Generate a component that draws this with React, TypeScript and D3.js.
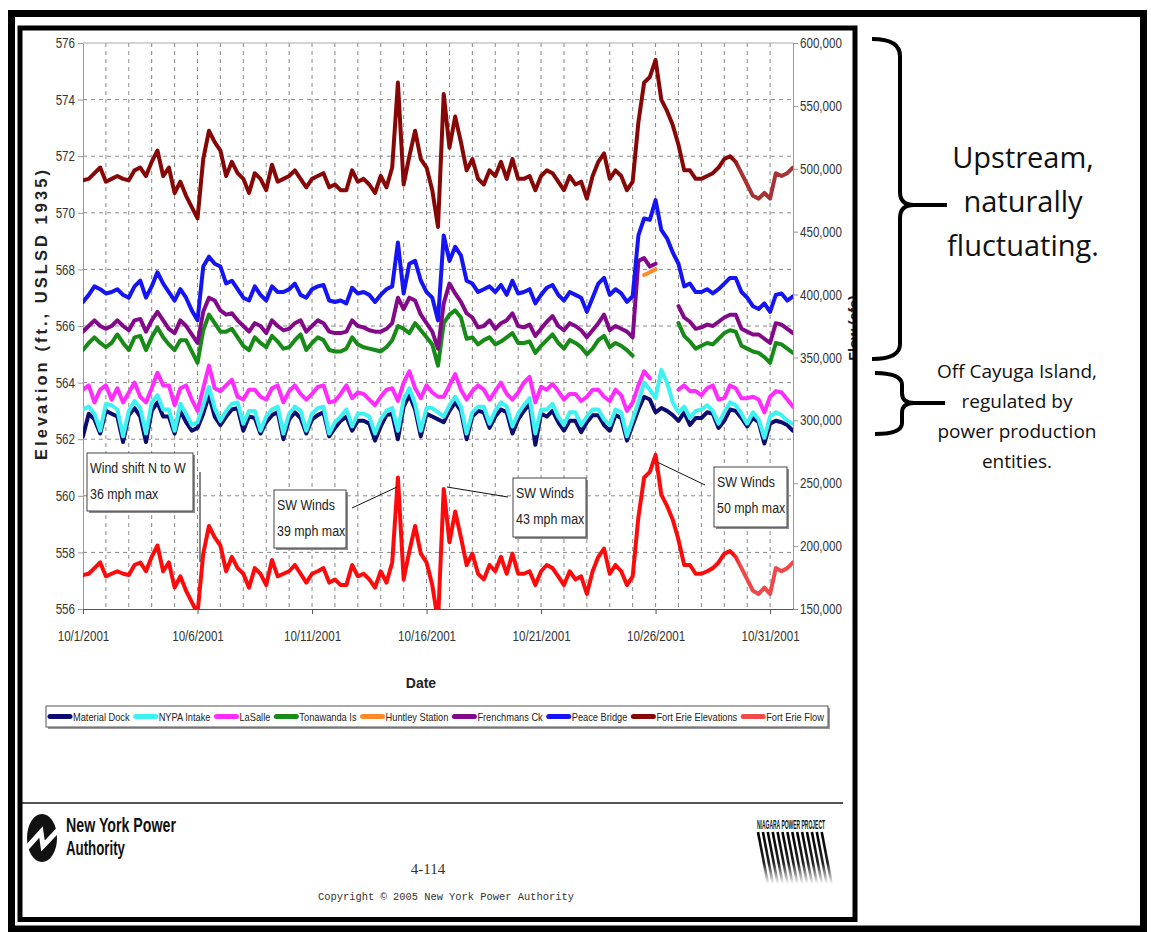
import React, { useEffect, useRef } from 'react';
import * as d3 from 'd3';

// readings every 6 hours, 10/1/2001 00:00 to 11/1/2001 00:00
const startDate = new Date(2001, 9, 1);
const endDate = new Date(2001, 10, 1);
const stepHours = 6;

const materialDock = [
  562.1, 562.9, 562.7, 562.2, 563.0, 562.9, 562.8, 561.9, 562.85, 563.1, 562.8, 561.9,
  563.0, 563.3, 562.8, 562.8, 562.2, 563.0, 562.6, 562.3, 562.4, 562.9, 563.55, 562.8,
  562.5, 562.8, 563.05, 563.1, 562.3, 562.8, 562.75, 562.2, 562.6, 562.85, 562.95, 562.0,
  562.7, 562.95, 562.75, 562.2, 562.7, 562.85, 562.95, 562.1, 562.4, 562.65, 562.8, 562.3,
  562.65, 562.65, 562.55, 561.95, 562.45, 562.85, 562.9, 562.0, 563.15, 563.55, 563.05, 562.1,
  562.9, 562.8, 562.7, 562.6, 563.0, 563.3, 563.0, 562.0, 562.8, 563.0, 562.95, 562.4,
  562.8, 563.05, 562.95, 562.2, 562.7, 563.0, 563.25, 561.8, 562.9, 562.8, 563.0, 562.6,
  562.3, 562.65, 562.65, 562.25, 562.6, 562.85, 562.85, 562.5, 562.3, 562.85, 562.75, 561.95,
  562.5, 563.05, 563.5, 563.4, 562.95, 563.1, 563.0, 562.85, 562.65, 562.95, 562.5, 562.75,
  562.75, 562.95, 562.9, 562.4, 562.65, 563.05, 563.0, 562.75, 562.45, 562.75, 562.6, 561.85,
  562.55, 562.65, 562.6, 562.5, 562.3,
];

const nypaIntake = [
  563.05, 563.15, 562.9, 562.3, 563.25, 563.2, 563.05, 562.1, 563.0, 563.35, 563.1, 562.2,
  563.3, 563.55, 563.05, 563.05, 562.3, 563.25, 562.9, 562.5, 562.6, 563.2, 563.85, 563.1,
  562.65, 563.0, 563.25, 563.3, 562.55, 563.0, 563.0, 562.3, 562.8, 563.05, 563.15, 562.2,
  562.9, 563.15, 563.0, 562.3, 562.9, 563.1, 563.15, 562.2, 562.6, 562.8, 563.05, 562.45,
  562.9, 562.9, 562.8, 562.2, 562.7, 563.0, 563.1, 562.3, 563.4, 563.8, 563.25, 562.3,
  563.1, 563.1, 562.95, 562.8, 563.2, 563.5, 563.15, 562.2, 562.95, 563.15, 563.15, 562.55,
  563.0, 563.3, 563.15, 562.45, 562.9, 563.2, 563.45, 562.2, 563.05, 563.05, 563.25, 562.8,
  562.5, 562.95, 562.95, 562.5, 562.8, 563.05, 563.05, 562.7, 562.5, 563.05, 562.95, 562.1,
  562.7, 563.3, 564.0, 563.75, 563.45, 564.45, 564.0, 563.3, 562.95, 563.15, 562.75, 563.0,
  563.05, 563.2, 563.0, 562.55, 562.95, 563.3, 563.2, 562.9, 562.55, 562.95, 562.7, 562.05,
  562.8, 562.95, 562.85, 562.65, 562.55,
];

const laSalle = [
  563.75, 563.9, 563.3, 563.75, 563.9, 563.4, 563.8, 563.3, 563.65, 564.0, 563.5, 563.3,
  563.8, 564.35, 563.9, 563.9, 563.2, 563.8, 563.9, 563.4, 563.0, 563.8, 564.6, 563.8,
  563.7, 563.9, 564.1, 563.5, 563.4, 563.75, 563.75, 563.5, 563.4, 563.8, 563.9, 563.3,
  563.7, 563.9, 563.6, 563.4, 563.6, 563.85, 563.9, 563.3, 563.35, 563.6, 563.9, 563.45,
  563.65, 563.6, 563.4, 563.2, 563.5, 563.75, 563.8, 563.35, 564.0, 564.4, 563.8, 563.45,
  563.9, 563.65, 563.5, 563.5, 563.9, 564.3, 563.75, 563.4, 563.7, 563.9, 563.75, 563.4,
  563.7, 564.0, 563.6, 563.4, 563.65, 564.0, 564.2, 563.3, 563.85, 563.75, 563.95, 563.7,
  563.4, 563.6, 563.6, 563.35, 563.5, 563.75, 563.75, 563.5, 563.35, 563.75, 563.55, 563.0,
  563.3, 563.9, 564.4, 564.15, null, null, null, null, 563.75, 563.9, 563.7, 563.7,
  563.55, 563.8, 563.9, 563.4, 563.45, 563.9, 563.8, 563.45, 563.45, 563.5, 563.4, 562.95,
  563.5, 563.7, 563.65, 563.4, 563.15,
];

const tonawandaIs = [
  565.15, 565.4, 565.6, 565.4, 565.25, 565.4, 565.7, 565.4, 565.15, 565.6, 565.65, 565.15,
  565.6, 565.95, 565.6, 565.35, 565.15, 565.5, 565.5, 565.1, 564.7, 565.85, 566.4, 566.1,
  565.8, 565.8, 565.9, 565.6, 565.3, 565.15, 565.6, 565.4, 565.25, 565.65, 565.45, 565.2,
  565.25, 565.5, 565.7, 565.15, 565.4, 565.6, 565.5, 565.15, 565.1, 565.1, 565.2, 565.6,
  565.35, 565.25, 565.2, 565.15, 565.1, 565.25, 565.5, 566.0, 565.9, 565.75, 566.1, 565.85,
  565.6, 565.35, 564.6, 566.1, 566.4, 566.55, 566.3, 565.55, 565.6, 565.35, 565.5, 565.6,
  565.35, 565.45, 565.6, 565.75, 565.4, 565.4, 565.45, 565.05, 565.3, 565.5, 565.7, 565.4,
  565.2, 565.5, 565.4, 565.25, 565.0, 565.2, 565.5, 565.65, 565.25, 565.4, 565.3, 565.15,
  564.95, null, null, null, null, null, null, null, 566.1, 565.65, 565.45, 565.2,
  565.3, 565.4, 565.35, 565.55, 565.75, 565.85, 565.8, 565.3, 565.2, 565.1, 565.05, 564.9,
  564.7, 565.4, 565.35, 565.2, 565.05,
];

// Huntley Station only reported for a few readings on 10/25
const huntleyDays = [24.5, 24.75, 25.0];
const huntleyStation = [567.8, 567.9, 568.0];

const frenchmansCk = [
  565.8, 566.0, 566.2, 566.0, 565.9, 566.0, 566.2, 566.0, 565.85, 566.2, 566.25, 565.8,
  566.2, 566.5, 566.2, 565.9, 565.75, 566.2, 566.0, 565.7, 565.4, 566.5, 567.0, 566.9,
  566.55, 566.4, 566.45, 566.2, 566.0, 565.8, 566.1, 566.0, 565.75, 566.2, 566.0, 565.85,
  565.9, 566.1, 566.2, 565.8, 566.0, 566.2, 566.1, 565.8, 565.75, 565.75, 565.8, 566.2,
  566.0, 565.95, 565.85, 565.8, 565.8, 565.9, 566.1, 567.0, 566.6, 567.0, 566.9, 566.4,
  566.1, 565.8, 565.2, 566.8, 567.5, 567.15, 566.85, 566.45, 566.3, 565.95, 566.0, 566.2,
  565.9, 566.1, 566.2, 566.45, 566.0, 565.95, 566.05, 565.65, 565.9, 566.15, 566.35, 566.0,
  565.85, 566.1, 566.0, 565.85, 565.6, 565.85, 566.1, 566.4, 565.85, 566.0, 565.9, 565.8,
  565.6, 568.3, 568.4, 568.1, 568.2, null, null, null, 566.7, 566.3, 566.15, 565.9,
  565.95, 566.05, 566.0, 566.15, 566.3, 566.4, 566.4, 565.9, 565.8, 565.7, 565.7, 565.55,
  565.4, 566.1, 566.05, 565.9, 565.75,
];

const peaceBridge = [
  566.85, 567.1, 567.4, 567.3, 567.15, 567.2, 567.3, 567.1, 567.0, 567.4, 567.6, 567.0,
  567.4, 567.9, 567.5, 567.2, 566.9, 567.3, 567.0, 566.55, 566.2, 568.1, 568.45, 568.2,
  568.1, 567.5, 567.6, 567.3, 567.0, 566.9, 567.4, 567.1, 566.9, 567.4, 567.2, 567.2,
  567.3, 567.5, 567.1, 567.0, 567.3, 567.4, 567.45, 566.9, 566.85, 566.9, 566.8, 567.35,
  567.15, 567.2, 567.1, 566.85, 567.1, 567.3, 567.4, 568.95, 567.15, 568.2, 568.3, 567.6,
  567.2, 567.0, 566.2, 569.2, 568.3, 568.8, 568.5, 567.6, 567.5, 567.2, 567.3, 567.4,
  567.2, 567.45, 567.1, 567.6, 567.15, 567.2, 567.3, 566.8, 567.1, 567.35, 567.45, 567.1,
  566.9, 567.2, 567.1, 567.0, 566.5, 567.0, 567.5, 567.7, 567.1, 567.3, 567.15, 566.85,
  567.05, 569.2, 569.8, 569.75, 570.45, 569.4, 569.1, 568.6, 568.2, 567.4, 567.5, 567.2,
  567.2, 567.3, 567.15, 567.3, 567.5, 567.7, 567.7, 567.2, 567.0, 566.7, 566.6, 566.8,
  566.5, 567.1, 567.15, 566.9, 567.05,
];

const fortErieElevations = [
  571.15, 571.2, 571.4, 571.6, 571.1, 571.2, 571.3, 571.2, 571.15, 571.5, 571.6, 571.3,
  571.8, 572.2, 571.3, 571.6, 570.7, 571.1, 570.6, 570.2, 569.8, 571.9, 572.9, 572.5,
  572.2, 571.3, 571.8, 571.4, 571.2, 570.7, 571.4, 571.2, 570.8, 571.7, 571.1, 571.2,
  571.3, 571.5, 571.2, 570.9, 571.2, 571.3, 571.4, 570.9, 571.0, 570.8, 570.8, 571.5,
  571.1, 571.2, 571.0, 570.7, 571.3, 570.9, 571.6, 574.6, 571.0, 572.0, 572.9, 571.9,
  571.6, 570.8, 569.5, 574.2, 572.3, 573.4, 572.5, 571.5, 571.9, 571.2, 571.0, 571.5,
  571.3, 571.8, 571.2, 571.9, 571.2, 571.2, 571.3, 570.8, 571.3, 571.5, 571.4, 571.1,
  570.8, 571.3, 571.0, 571.1, 570.5, 571.3, 571.8, 572.1, 571.2, 571.5, 571.3, 570.8,
  571.1, 573.2, 574.6, 574.8, 575.4, 574.0, 573.6, 573.1, 572.4, 571.5, 571.5, 571.2,
  571.2, 571.3, 571.4, 571.6, 571.9, 572.0, 571.8, 571.4, 571.0, 570.6, 570.5, 570.7,
  570.5, 571.4, 571.3, 571.4, 571.6,
];

// cfs, right axis
const fortErieFlow = [
  177000, 178000, 182500, 187000, 176000, 178000, 180000, 178000, 177000, 185000, 187000, 180000,
  191500, 200500, 180000, 187000, 167000, 176000, 164500, 155500, 146500, 194000, 216000, 207000,
  200500, 180000, 191500, 182500, 178000, 167000, 182500, 178000, 169000, 189000, 176000, 178000,
  180000, 185000, 178000, 171000, 178000, 180000, 182500, 171000, 173500, 169000, 169000, 185000,
  176000, 178000, 173500, 167000, 180000, 171000, 187000, 254500, 173500, 196000, 216000, 194000,
  187000, 169000, 140000, 245500, 203000, 227500, 207000, 185000, 194000, 178000, 173500, 185000,
  180000, 191500, 178000, 194000, 178000, 178000, 180000, 169000, 180000, 185000, 182500, 176000,
  169000, 180000, 173500, 176000, 162000, 180000, 191500, 198000, 178000, 185000, 180000, 169000,
  176000, 223000, 254500, 259000, 272500, 241000, 232000, 221000, 205000, 185000, 185000, 178000,
  178000, 180000, 182500, 187000, 194000, 196000, 191500, 182500, 173500, 164500, 162000, 167000,
  162000, 182500, 180000, 182500, 187000,
];

const elevationTicks = [556, 558, 560, 562, 564, 566, 568, 570, 572, 574, 576];
const flowTicks = [150000, 200000, 250000, 300000, 350000, 400000, 450000, 500000, 550000, 600000];
const dateTicks = [1, 6, 11, 16, 21, 26, 31].map((d) => new Date(2001, 9, d));

const notes = [
  { lines: ['Wind shift N to W', '36 mph max'] },
  { lines: ['SW Winds', '39 mph max'] },
  { lines: ['SW Winds', '43 mph max'] },
  { lines: ['SW Winds', '50 mph max'] },
];

const sans = "'Liberation Sans', Arial, sans-serif";

// no narrow face installed: squeeze Liberation Sans to Arial Narrow proportions
const condense = (sel, k = 0.82) => {
  sel.each(function () {
    const len = this.getComputedTextLength();
    d3.select(this).attr('textLength', len * k).attr('lengthAdjust', 'spacingAndGlyphs');
  });
  return sel;
};

function App() {
  const ref = useRef(null);

  useEffect(() => {
    const svg = d3.select(ref.current);
    svg.selectAll('*').remove();

    const left = 83, right = 793, top = 43, bottom = 609;
    const x = d3.scaleTime().domain([startDate, endDate]).range([left, right]);
    const yL = d3.scaleLinear().domain([556, 576]).range([bottom, top]);
    const yR = d3.scaleLinear().domain([150000, 600000]).range([bottom, top]);

    const defs = svg.append('defs');
    defs.append('clipPath').attr('id', 'plotClip')
      .append('rect').attr('x', left).attr('y', top).attr('width', right - left).attr('height', bottom - top);
    defs.append('clipPath').attr('id', 'pageClip')
      .append('rect').attr('x', 20).attr('y', 28).attr('width', 833).attr('height', 890);

    // later readings come from a second source, drawn a bit lighter
    const fadeAt = (x(d3.timeHour.offset(startDate, 28.4 * 24)) - left) / (right - left);
    const fade = (id, c1, c2) => {
      const g = defs.append('linearGradient').attr('id', id)
        .attr('gradientUnits', 'userSpaceOnUse')
        .attr('x1', left).attr('x2', right).attr('y1', 0).attr('y2', 0);
      g.append('stop').attr('offset', 0).attr('stop-color', c1);
      g.append('stop').attr('offset', fadeAt).attr('stop-color', c1);
      g.append('stop').attr('offset', fadeAt + 0.01).attr('stop-color', c2);
      g.append('stop').attr('offset', 1).attr('stop-color', c2);
    };
    fade('elevFade', '#870707', '#a63434');
    fade('flowFade', '#ff0a0a', '#f04848');

    const stripe = defs.append('linearGradient').attr('id', 'stripeFade')
      .attr('gradientUnits', 'userSpaceOnUse').attr('x1', 0).attr('x2', 0).attr('y1', 832).attr('y2', 884);
    stripe.append('stop').attr('offset', 0).attr('stop-color', '#000');
    stripe.append('stop').attr('offset', 0.6).attr('stop-color', '#222');
    stripe.append('stop').attr('offset', 1).attr('stop-color', '#fff');

    svg.append('rect').attr('width', 1151).attr('height', 932).attr('fill', '#fff');

    const page = svg.append('g').attr('clip-path', 'url(#pageClip)');

    // grid
    const grid = page.append('g');
    grid.selectAll('.hgrid')
      .data(elevationTicks.slice(1, -1))
      .enter().append('line')
      .attr('x1', left).attr('x2', right)
      .attr('y1', (d) => yL(d)).attr('y2', (d) => yL(d))
      .attr('stroke', '#8a8a8a').attr('stroke-dasharray', '4,4');
    grid.selectAll('.vgrid')
      .data(d3.timeDay.range(d3.timeDay.offset(startDate, 1), endDate))
      .enter().append('line')
      .attr('x1', (d) => x(d)).attr('x2', (d) => x(d))
      .attr('y1', top).attr('y2', bottom)
      .attr('stroke', '#8a8a8a').attr('stroke-dasharray', '4,4');
    grid.append('line').attr('x1', left).attr('x2', right).attr('y1', top).attr('y2', top)
      .attr('stroke', '#aaa');

    // axes
    const styleAxis = (g, color) => {
      g.attr('font-family', sans).attr('font-size', 14.5);
      g.select('.domain').attr('stroke', color);
      g.selectAll('.tick line').attr('stroke', color);
      condense(g.selectAll('.tick text').attr('fill', '#333'), 0.8);
    };
    page.append('g')
      .attr('transform', `translate(${left},0)`)
      .call(d3.axisLeft(yL).tickValues(elevationTicks).tickSize(5).tickPadding(3).tickSizeOuter(0))
      .call((g) => styleAxis(g, '#999'));
    page.append('g')
      .attr('transform', `translate(${right},0)`)
      .call(d3.axisRight(yR).tickValues(flowTicks).tickFormat(d3.format(',')).tickSize(5).tickPadding(2).tickSizeOuter(0))
      .call((g) => styleAxis(g, '#999'));
    page.append('g')
      .attr('transform', `translate(0,${bottom})`)
      .call(d3.axisBottom(x).tickValues(dateTicks).tickFormat(d3.timeFormat('%-m/%-d/%Y')).tickSize(5).tickPadding(17).tickSizeOuter(0))
      .call((g) => styleAxis(g, '#555'));

    // series
    const readings = (values) => values.map((v, i) => [d3.timeHour.offset(startDate, i * stepHours), v]);
    const elevLine = d3.line()
      .defined((d) => d[1] != null)
      .x((d) => x(d[0]))
      .y((d) => yL(d[1]));
    const flowLine = d3.line()
      .defined((d) => d[1] != null)
      .x((d) => x(d[0]))
      .y((d) => yR(d[1]));

    const series = [
      { name: 'Material Dock', color: '#0c0c70', data: readings(materialDock), line: elevLine },
      { name: 'NYPA Intake', color: '#3ff2f2', data: readings(nypaIntake), line: elevLine },
      { name: 'LaSalle', color: '#ff2bff', data: readings(laSalle), line: elevLine },
      { name: 'Tonawanda Is', color: '#178a17', data: readings(tonawandaIs), line: elevLine },
      {
        name: 'Huntley Station', color: '#ff8a2a',
        data: huntleyDays.map((d, i) => [d3.timeHour.offset(startDate, d * 24), huntleyStation[i]]),
        line: elevLine,
      },
      { name: 'Frenchmans Ck', color: '#83098a', data: readings(frenchmansCk), line: elevLine },
      { name: 'Peace Bridge', color: '#1414f5', data: readings(peaceBridge), line: elevLine },
      { name: 'Fort Erie Elevations', color: '#870707', stroke: 'url(#elevFade)', data: readings(fortErieElevations), line: elevLine },
      { name: 'Fort Erie Flow', color: '#f24a4a', stroke: 'url(#flowFade)', data: readings(fortErieFlow), line: flowLine },
    ];

    const plot = page.append('g').attr('clip-path', 'url(#plotClip)');
    series.forEach((s) => {
      plot.append('path')
        .datum(s.data)
        .attr('fill', 'none')
        .attr('stroke', s.stroke || s.color)
        .attr('stroke-width', 4)
        .attr('stroke-linejoin', 'round')
        .attr('stroke-linecap', 'round')
        .attr('d', s.line);
    });

    // wind annotations
    const leaders = [
      [[200, 472], [200, 562]],
      [[352, 508], [397, 487]],
      [[508, 497], [447, 487]],
      [[705, 485], [657, 462]],
    ];
    leaders.forEach((l) => {
      page.append('path').attr('d', d3.line()(l)).attr('stroke', '#111').attr('stroke-width', 1).attr('fill', 'none');
    });
    const boxes = [
      [87, 453, 106, 58],
      [274, 490, 72, 58],
      [513, 478, 73, 59],
      [714, 467, 73, 60],
    ];
    notes.forEach((n, i) => {
      const [bx, by, bw, bh] = boxes[i];
      const g = page.append('g');
      g.append('rect').attr('x', bx + 2).attr('y', by + 2).attr('width', bw).attr('height', bh).attr('fill', '#8c8c8c');
      g.append('rect').attr('x', bx).attr('y', by).attr('width', bw).attr('height', bh)
        .attr('fill', '#fff').attr('stroke', '#444').attr('stroke-width', 1);
      n.lines.forEach((t, j) => {
        const tx = g.append('text').attr('x', bx + 3).attr('y', by + 20 + j * 26)
          .attr('font-family', sans).attr('font-size', 15.5).attr('fill', '#222').text(t);
        condense(tx, 0.8);
      });
    });

    // axis titles
    page.append('text')
      .attr('transform', 'translate(47,315) rotate(-90)')
      .attr('text-anchor', 'middle')
      .attr('font-family', sans).attr('font-size', 16.5).attr('font-weight', 'bold')
      .attr('textLength', 290).attr('lengthAdjust', 'spacing')
      .attr('fill', '#222')
      .text('Elevation (ft., USLSD 1935)');
    page.append('text')
      .attr('transform', 'translate(859,328) rotate(-90)')
      .attr('text-anchor', 'middle')
      .attr('font-family', sans).attr('font-size', 14).attr('font-weight', 'bold')
      .attr('fill', '#222')
      .text('Flow (cfs)');
    page.append('text')
      .attr('x', 421).attr('y', 688)
      .attr('text-anchor', 'middle')
      .attr('font-family', sans).attr('font-size', 14).attr('font-weight', 'bold')
      .attr('fill', '#222')
      .text('Date');

    // legend
    const legend = page.append('g');
    legend.append('rect').attr('x', 48).attr('y', 708).attr('width', 782).attr('height', 21).attr('fill', '#999');
    legend.append('rect').attr('x', 46).attr('y', 706).attr('width', 782).attr('height', 21)
      .attr('fill', '#fff').attr('stroke', '#555');
    let lx = 48;
    series.forEach((s) => {
      legend.append('line').attr('x1', lx + 2).attr('x2', lx + 22).attr('y1', 716.5).attr('y2', 716.5)
        .attr('stroke', s.color).attr('stroke-width', 5).attr('stroke-linecap', 'round');
      const t = legend.append('text').attr('x', lx + 25).attr('y', 720.5)
        .attr('font-family', sans).attr('font-size', 11.3).attr('fill', '#222').text(s.name);
      const w = t.node().getComputedTextLength() * 0.82;
      t.attr('textLength', w).attr('lengthAdjust', 'spacingAndGlyphs');
      lx += 25 + w + 4;
    });

    // page footer
    page.append('line').attr('x1', 20).attr('x2', 843).attr('y1', 803).attr('y2', 803)
      .attr('stroke', '#555').attr('stroke-width', 2);
    page.append('ellipse').attr('cx', 42).attr('cy', 838).attr('rx', 15).attr('ry', 24).attr('fill', '#111');
    page.append('polyline').attr('points', '24,851 41,832 43,846 61,827')
      .attr('fill', 'none').attr('stroke', '#fff').attr('stroke-width', 5);
    page.append('text').attr('x', 66).attr('y', 832)
      .attr('font-family', sans).attr('font-size', 20).attr('font-weight', 'bold')
      .attr('textLength', 110).attr('lengthAdjust', 'spacingAndGlyphs').attr('fill', '#111')
      .text('New York Power');
    page.append('text').attr('x', 66).attr('y', 855)
      .attr('font-family', sans).attr('font-size', 20).attr('font-weight', 'bold')
      .attr('textLength', 59).attr('lengthAdjust', 'spacingAndGlyphs').attr('fill', '#111')
      .text('Authority');
    page.append('text').attr('x', 428).attr('y', 874)
      .attr('text-anchor', 'middle')
      .attr('font-family', "'Liberation Serif', serif").attr('font-size', 15).attr('fill', '#333')
      .text('4-114');
    page.append('text').attr('x', 446).attr('y', 900)
      .attr('text-anchor', 'middle')
      .attr('font-family', "'Liberation Mono', monospace").attr('font-size', 10.5).attr('fill', '#333')
      .attr('textLength', 256).attr('lengthAdjust', 'spacingAndGlyphs')
      .text('Copyright \u00a9 2005 New York Power Authority');
    page.append('text').attr('x', 757).attr('y', 829)
      .attr('font-family', sans).attr('font-size', 12).attr('font-weight', 'bold')
      .attr('textLength', 68).attr('lengthAdjust', 'spacingAndGlyphs').attr('fill', '#111')
      .text('NIAGARA POWER PROJECT');
    page.append('g').selectAll('line')
      .data(d3.range(14))
      .enter().append('line')
      .attr('x1', (d) => 758 + d * 4.9).attr('x2', (d) => 768 + d * 4.9)
      .attr('y1', 832).attr('y2', 884)
      .attr('stroke', 'url(#stripeFade)').attr('stroke-width', 2.6);

    // frames
    svg.append('rect').attr('x', 20).attr('y', 28).attr('width', 835).attr('height', 891.5)
      .attr('fill', 'none').attr('stroke', '#000').attr('stroke-width', 5);
    svg.append('rect').attr('x', 11.5).attr('y', 13.5).attr('width', 1132).attr('height', 915.5)
      .attr('fill', 'none').attr('stroke', '#000').attr('stroke-width', 7);

    // braces and commentary
    svg.append('path')
      .attr('d', 'M872,39 Q900,39 900,56 L900,192 Q900,205 914,205 L947,205 M914,205 Q900,205 900,218 L900,344 Q900,359 872,359')
      .attr('fill', 'none').attr('stroke', '#000').attr('stroke-width', 4);
    svg.append('path')
      .attr('d', 'M875,373 Q902,373 902,385 L902,393 Q902,403 914,403 L945,403 M914,403 Q902,403 902,413 L902,423 Q902,434 875,434')
      .attr('fill', 'none').attr('stroke', '#000').attr('stroke-width', 4);
    ['Upstream,', 'naturally', 'fluctuating.'].forEach((t, i) => {
      svg.append('text').attr('x', 1023).attr('y', 168 + i * 44)
        .attr('text-anchor', 'middle')
        .attr('font-family', "'Open Sans', sans-serif").attr('font-size', 29).attr('fill', '#111')
        .text(t);
    });
    ['Off Cayuga Island,', 'regulated by', 'power production', 'entities.'].forEach((t, i) => {
      svg.append('text').attr('x', 1017).attr('y', 378 + i * 30)
        .attr('text-anchor', 'middle')
        .attr('font-family', "'Open Sans', sans-serif").attr('font-size', 19).attr('fill', '#111')
        .text(t);
    });
  }, []);

  return (
    <svg ref={ref} width={1151} height={932} style={{ position: 'absolute', left: 0, top: 0 }} />
  );
}

export default App;
